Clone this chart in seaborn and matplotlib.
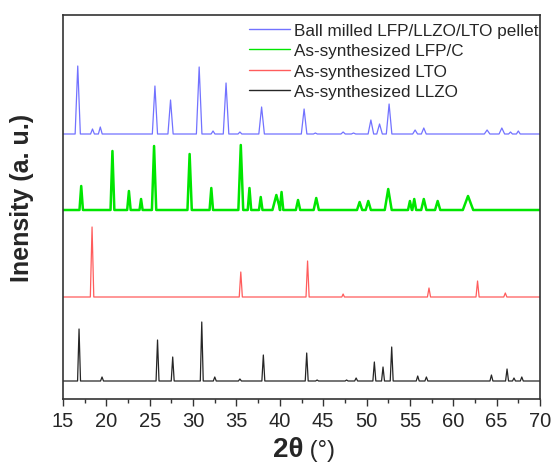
import numpy as np
import pandas as pd
import matplotlib
matplotlib.use("Agg")
import matplotlib.pyplot as plt
import seaborn as sns

# ---------------- data ----------------
labels = ["Ball milled LFP/LLZO/LTO pellet", "As-synthesized LFP/C",
          "As-synthesized LTO", "As-synthesized LLZO"]

# Ball milled pellet (blue)
blue_base = 265
blue_pos = [16.7, 18.4, 19.3, 25.6, 27.4, 30.7, 32.3, 33.8, 35.4, 37.9, 42.8, 44.1,
            47.3, 48.5, 50.5, 51.5, 52.6, 55.6, 56.6, 63.9, 65.6, 66.6, 67.5]
blue_h = [333, 270, 272, 313, 299, 332, 268, 316, 267, 292, 290, 266,
          267, 266, 279, 275, 295, 269, 271, 269, 271, 267, 268]
blue_w = [0.3, 0.22, 0.22, 0.3, 0.3, 0.32, 0.22, 0.32, 0.22, 0.32, 0.32, 0.22,
          0.25, 0.25, 0.32, 0.32, 0.32, 0.28, 0.28, 0.32, 0.32, 0.22, 0.22]

# LFP/C (green)
green_base = 189
green_pos = [17.1, 20.7, 22.6, 24.0, 25.5, 29.6, 32.1, 35.5, 36.5, 37.8, 39.6, 40.2,
             42.1, 44.2, 49.2, 50.2, 52.5, 55.0, 55.5, 56.6, 58.2, 61.7]
green_h = [213, 248, 208, 200, 253, 245, 211, 254, 211, 202, 204, 207,
           199, 201, 197, 198, 210, 198, 200, 200, 198, 203]
green_w = [0.2, 0.22, 0.2, 0.18, 0.25, 0.25, 0.2, 0.28, 0.2, 0.2, 0.45, 0.2,
           0.25, 0.3, 0.3, 0.3, 0.4, 0.22, 0.22, 0.3, 0.3, 0.6]

# LTO (red)
red_base = 102
red_pos = [18.35, 35.5, 43.2, 47.3, 57.2, 62.8, 66.0]
red_h = [172, 127, 138, 105, 111, 118, 106]
red_w = [0.2, 0.18, 0.18, 0.15, 0.18, 0.18, 0.18]

# LLZO (black)
black_base = 18
black_pos = [16.85, 19.5, 25.9, 27.65, 31.0, 32.5, 35.4, 38.1, 43.1, 44.3, 47.7, 48.8,
             50.9, 51.9, 52.9, 55.9, 56.9, 59.8, 63.4, 64.4, 66.2, 67.0, 67.9]
black_h = [70, 22, 59, 42, 77, 22, 20, 44, 46, 19, 19, 21,
           37, 32, 52, 23, 22, 18, 18, 24, 30, 21, 22]
black_w = [0.17] * len(black_pos)

x_min, x_max = 15, 70
xticks = [15, 20, 25, 30, 35, 40, 45, 50, 55, 60, 65, 70]


def pattern(base, pos, h, w, name):
    xs = [x_min]
    ys = [base]
    for p, hh, ww in zip(pos, h, w):
        xs += [p - ww, p, p + ww]
        ys += [base, hh, base]
    xs.append(x_max)
    ys.append(base)
    return pd.DataFrame({"2theta": xs, "I": ys, "sample": name})


series = [
    (pattern(blue_base, blue_pos, blue_h, blue_w, labels[0]), "#7272ff", 0.9),
    (pattern(green_base, green_pos, green_h, green_w, labels[1]), "#00e600", 1.8),
    (pattern(red_base, red_pos, red_h, red_w, labels[2]), "#ff5c5c", 0.9),
    (pattern(black_base, black_pos, black_h, black_w, labels[3]), "#262626", 0.9),
]

# ---------------- plot ----------------
sns.set_theme(style="ticks")
plt.rcParams["font.family"] = ["Liberation Sans", "DejaVu Sans"]

fig = plt.figure(figsize=(5.51, 4.64), dpi=100)
ax = fig.add_axes([63 / 551, 1 - 400 / 464, (540 - 63) / 551, (400 - 16) / 464])

for df, col, lw in series:
    sns.lineplot(data=df, x="2theta", y="I", ax=ax, color=col, lw=lw,
                 sort=False, estimator=None, label=df["sample"].iloc[0])

ax.set_xlim(x_min, x_max)
ax.set_ylim(0, 384)
ax.set_xticks(xticks)
ax.set_xticks(np.arange(17.5, 70, 5), minor=True)
ax.set_yticks([])
ax.tick_params(axis="x", which="major", direction="out", length=5, width=1,
               labelsize=14.5, pad=4, color="#333333")
ax.tick_params(axis="x", which="minor", direction="out", length=3, width=1,
               color="#333333")
for s in ax.spines.values():
    s.set_visible(True)
    s.set_linewidth(1.2)
    s.set_color("#333333")
ax.set_xlabel("")
ax.set_ylabel("")

leg = ax.legend(loc="upper left", bbox_to_anchor=(249 / 551, 1 - 24 / 464),
                bbox_transform=fig.transFigure, frameon=False, fontsize=12.3,
                handlelength=2.4, handletextpad=0.22, borderpad=0, borderaxespad=0,
                labelspacing=0.32)
for lh in leg.get_lines():
    lh.set_linewidth(1.0)

fig.text(303 / 551, 1 - 457 / 464, "2θ", fontsize=20, fontweight="bold",
         ha="right", va="baseline")
fig.text(303 / 551, 1 - 457 / 464, " (°)", fontsize=17, ha="left", va="baseline")
fig.text(22 / 551, 1 - 198 / 464, "Inensity (a. u.)", fontsize=18,
         fontweight="bold", rotation=90, ha="center", va="center")

fig.savefig("out.png", dpi=100)
